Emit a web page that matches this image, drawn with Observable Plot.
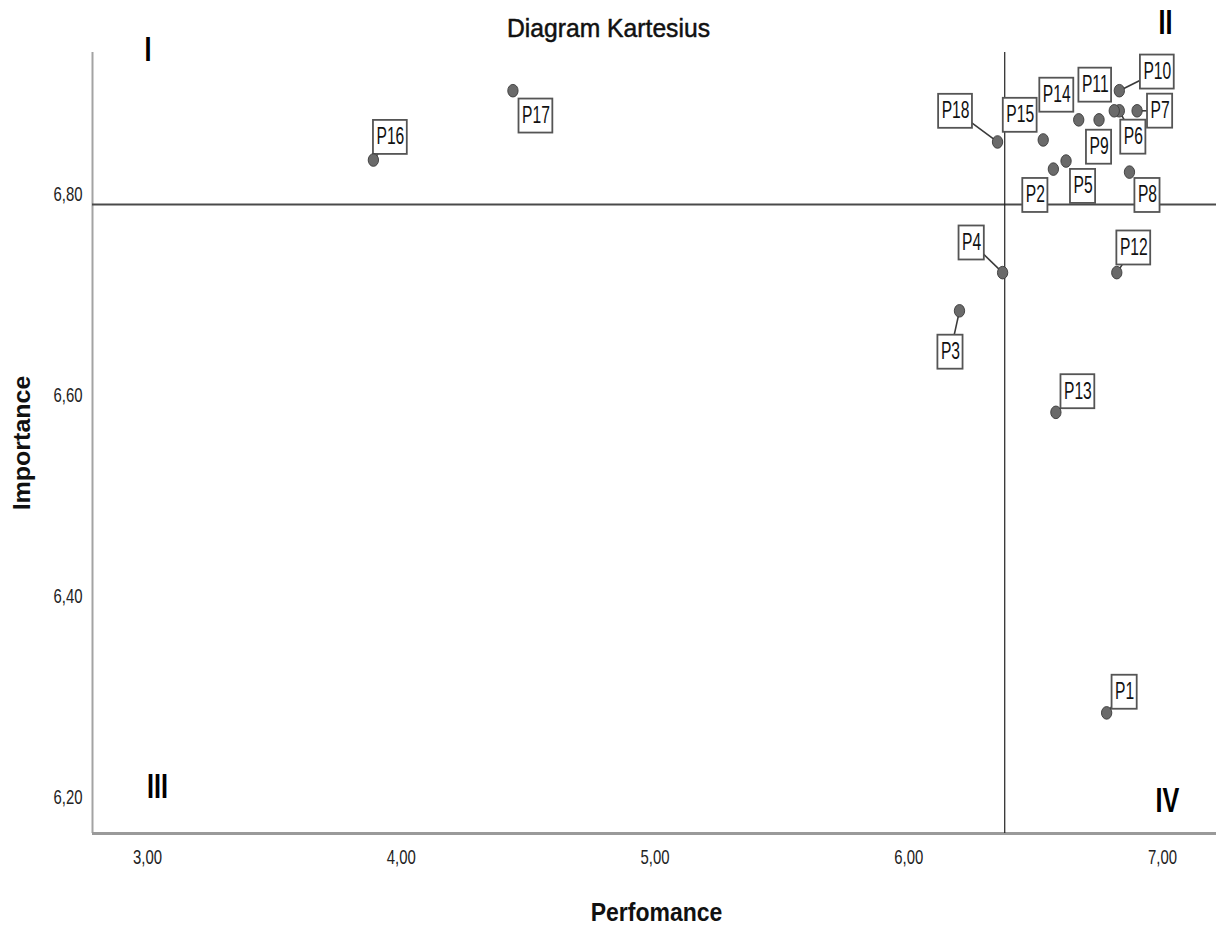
<!DOCTYPE html>
<html>
<head>
<meta charset="utf-8">
<script src="https://cdn.jsdelivr.net/npm/d3@7"></script>
<script src="https://cdn.jsdelivr.net/npm/@observablehq/plot@0.6"></script>
<style>
  body { margin: 0; background: #fff; }
  #chart { width: 1216px; height: 926px; }
</style>
</head>
<body>
<div id="chart"></div>
<script>
// ---- data ----
const labels      = ["P1","P2","P3","P4","P5","P6","P7","P8","P9","P10","P11","P12","P13","P14","P15","P16","P17","P18"];
const performance = [6.78, 6.57, 6.20, 6.37, 6.62, 6.83, 6.90, 6.87, 6.75, 6.83, 6.81, 6.82, 6.58, 6.67, 6.53, 3.89, 4.44, 6.35];
const importance  = [6.284, 6.825, 6.684, 6.722, 6.833, 6.883, 6.883, 6.822, 6.874, 6.903, 6.883, 6.722, 6.583, 6.874, 6.854, 6.834, 6.903, 6.852];
const xTicks = [3, 4, 5, 6, 7];
const yTicks = [6.2, 6.4, 6.6, 6.8];
const title = "Diagram Kartesius";
const xTitle = "Perfomance";
const yTitle = "Importance";
const quadrantNames = ["I", "II", "III", "IV"];

// ---- label layout (pixel offsets of label box centre from its point) ----
const labelOffsets = [[18,-21],[-18,26],[-9,41],[-31,-30],[17,25],[14,26],[23,0],[18,23],[0,27],[38,-19],[-19,-26],[17,-25],[22,-21],[-22,-25],[-23,-25],[17,-23],[23,25],[-42,-31]];
const leader = [1,0,1,1,0,1,1,0,0,1,0,1,1,0,0,1,0,1];

const xDomain = [2.783, 7.213];
const yDomain = [6.164, 6.941];
const W = 1216, H = 926, M = {top: 52, right: 0, bottom: 93, left: 92};
const kx = (W - M.left - M.right) / (xDomain[1] - xDomain[0]);
const ky = (H - M.top - M.bottom) / (yDomain[1] - yDomain[0]);
const idx = labels.map((_, i) => i);
const lx = i => performance[i] + labelOffsets[i][0] / kx;
const ly = i => importance[i] - labelOffsets[i][1] / ky;
const meanX = d3.mean(performance);
const meanY = d3.mean(importance);
const fmt = d => d.toFixed(2).replace(".", ",");
const SANS = '"Liberation Sans", Arial, sans-serif';

const quadMark = (name, anchor, dx, dy) => Plot.text([name], {
  text: d => d, frameAnchor: anchor, dx, dy, textAnchor: "middle", lineAnchor: "middle",
  fontFamily: SANS, fontWeight: "bold", fontSize: 35, fill: "#000"
});

const plot = Plot.plot({
  width: W, height: H,
  marginTop: M.top, marginRight: M.right, marginBottom: M.bottom, marginLeft: M.left,
  style: {fontFamily: SANS, fontSize: "21px", color: "#222", background: "#fff", overflow: "visible"},
  x: {domain: xDomain, ticks: xTicks, tickFormat: fmt, tickSize: 0, tickPadding: 16, label: null},
  y: {domain: yDomain, ticks: yTicks, tickFormat: fmt, tickSize: 0, tickPadding: 10, label: null},
  marks: [
    Plot.ruleX([xDomain[0]], {stroke: "#a3a3a3", strokeWidth: 2}),
    Plot.ruleY([yDomain[0]], {stroke: "#9a9a9a", strokeWidth: 3}),
    Plot.ruleY([meanY], {stroke: "#4a4a4a", strokeWidth: 2}),
    Plot.ruleX([meanX], {stroke: "#222", strokeWidth: 1.2}),
    Plot.link(idx.filter(i => leader[i]), {
      x1: i => performance[i], y1: i => importance[i], x2: lx, y2: ly,
      stroke: "#3a3a3a", strokeWidth: 1.6
    }),
    Plot.text(idx, {
      x: lx, y: ly, text: i => labels[i], textAnchor: "middle", lineAnchor: "middle",
      fontFamily: SANS, fontSize: 23, fill: "#111"
    }),
    Plot.dot(idx, {
      x: i => performance[i], y: i => importance[i], r: 6.3,
      fill: "#6a6a6a", stroke: "#3a3a3a", strokeWidth: 1
    }),
    Plot.text([title], {text: d => d, frameAnchor: "top", dx: -46, dy: -24, lineAnchor: "middle",
      fontFamily: SANS, fontSize: 26, fill: "#111", stroke: "#111", strokeWidth: 0.5}),
    Plot.text([xTitle], {text: d => d, frameAnchor: "bottom", dx: 2, dy: 79, lineAnchor: "middle",
      fontFamily: SANS, fontWeight: "bold", fontSize: 25, fill: "#111"}),
    Plot.text([yTitle], {text: d => d, frameAnchor: "left", dx: -70, rotate: -90, textAnchor: "middle", lineAnchor: "middle",
      fontFamily: SANS, fontWeight: "bold", fontSize: 25, fill: "#111"}),
    quadMark(quadrantNames[0], "top-left", 55.5, -3),
    quadMark(quadrantNames[1], "top-right", -51, -30),
    quadMark(quadrantNames[2], "bottom-left", 65, -47),
    quadMark(quadrantNames[3], "bottom-right", -49, -33)
  ]
});

document.getElementById("chart").appendChild(plot);

// ---- styling helpers: narrow the glyphs horizontally (reference text is condensed) ----
const NS = "http://www.w3.org/2000/svg";
function squeeze(el, sx, sy = 1) {
  const x = +el.getAttribute("x") || 0, y = +el.getAttribute("y") || 0;
  const tr = el.getAttribute("transform") || "";
  el.setAttribute("transform", `${tr} translate(${x},${y}) scale(${sx},${sy}) translate(${-x},${-y})`);
}
const allTexts = Array.from(plot.querySelectorAll("text"));
const LABEL_SX = 0.68;

// boxes around point labels
const labelTexts = allTexts.filter(t => /^P\d+$/.test(t.textContent));
if (labelTexts.length) {
  const tg = labelTexts[0].parentNode;
  const rg = document.createElementNS(NS, "g");
  tg.parentNode.insertBefore(rg, tg);
  labelTexts.forEach(t => {
    const b = t.getBBox();
    const x0 = +t.getAttribute("x") || 0;
    const padX = 3, h = 34;
    const bx = x0 + (b.x - x0) * LABEL_SX;
    const r = document.createElementNS(NS, "rect");
    r.setAttribute("x", bx - padX);
    r.setAttribute("y", b.y + b.height / 2 - h / 2 + 1);
    r.setAttribute("width", b.width * LABEL_SX + 2 * padX);
    r.setAttribute("height", h);
    r.setAttribute("fill", "#fff");
    r.setAttribute("stroke", "#555");
    r.setAttribute("stroke-width", "1.8");
    const tr = t.getAttribute("transform");
    if (tr) r.setAttribute("transform", tr);
    rg.appendChild(r);
    squeeze(t, LABEL_SX);
  });
}
allTexts.filter(t => /^\d,\d\d$/.test(t.textContent)).forEach(t => squeeze(t, 0.71));
allTexts.filter(t => quadrantNames.includes(t.textContent)).forEach(t => squeeze(t, 0.72));
allTexts.filter(t => t.textContent === title).forEach(t => squeeze(t, 0.95));
allTexts.filter(t => t.textContent === xTitle || t.textContent === yTitle).forEach(t => squeeze(t, t.textContent === xTitle ? 0.92 : 1, t.textContent === yTitle ? 0.92 : 1));
// dots are slightly taller than wide in the reference
Array.from(plot.querySelectorAll("circle")).forEach(c => {
  const cx = +c.getAttribute("cx") || 0, cy = +c.getAttribute("cy") || 0;
  const tr = c.getAttribute("transform") || "";
  c.setAttribute("transform", `${tr} translate(${cx},${cy}) scale(0.82,1) translate(${-cx},${-cy})`);
});
</script>
</body>
</html>
